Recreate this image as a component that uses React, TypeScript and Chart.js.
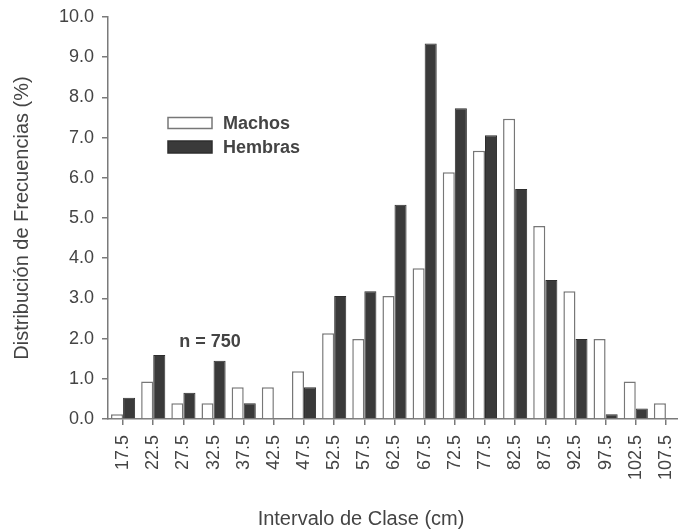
import React, { useEffect, useRef } from "react";
import { Chart, registerables } from "chart.js";

Chart.register(...registerables);

const categories = ["17.5","22.5","27.5","32.5","37.5","42.5","47.5","52.5","57.5","62.5","67.5","72.5","77.5","82.5","87.5","92.5","97.5","102.5","107.5"];
const machos = [0.12,0.93,0.39,0.39,0.79,0.79,1.19,2.13,1.99,3.06,3.75,6.14,6.67,7.47,4.80,3.18,1.99,0.93,0.39];
const hembras = [0.53,1.59,0.65,1.45,0.39,0,0.79,3.06,3.18,5.33,9.34,7.73,7.06,5.72,3.46,1.99,0.12,0.26,0];
const seriesNames = ["Machos", "Hembras"];
const yTitle = "Distribución de Frecuencias (%)";
const xTitle = "Intervalo de Clase (cm)";
const note = "n = 750";

const TEXT = "#444444";
const AXIS = "#7a7a7a";

const overlayPlugin = {
  id: "overlay",
  afterDraw(chart: any) {
    const ctx = chart.ctx;
    const x = chart.scales.x;
    const y = chart.scales.y;
    ctx.save();
    // x title
    ctx.fillStyle = TEXT;
    ctx.font = "20px 'Liberation Sans', Arial, sans-serif";
    ctx.textAlign = "center";
    ctx.textBaseline = "middle";
    ctx.fillText(xTitle, 361, 519);
    // note
    ctx.font = "bold 18px 'Liberation Sans', Arial, sans-serif";
    ctx.fillText(note, x.getPixelForValue(2.88), y.getPixelForValue(1.92));
    // legend
    const ds = chart.data.datasets;
    const bx = 168, bw = 44;
    const rows = [ { yc: 123, h: 11 }, { yc: 147, h: 12 } ];
    ctx.textAlign = "left";
    ds.forEach((d: any, i: number) => {
      const r = rows[i];
      ctx.fillStyle = d.backgroundColor;
      ctx.fillRect(bx, r.yc - r.h / 2, bw, r.h);
      ctx.lineWidth = 1.5;
      ctx.strokeStyle = d.borderColor;
      ctx.strokeRect(bx, r.yc - r.h / 2, bw, r.h);
      ctx.fillStyle = TEXT;
      ctx.fillText(d.label, 223, r.yc + 1);
    });
    ctx.restore();
  },
};

export default function App() {
  const ref = useRef<HTMLCanvasElement>(null);
  useEffect(() => {
    const canvas = ref.current!;
    const chart = new Chart(canvas, {
      type: "bar",
      data: {
        labels: categories,
        datasets: [
          { label: seriesNames[0], data: machos, backgroundColor: "#ffffff", borderColor: "#777777", borderWidth: 1.5, categoryPercentage: 0.8, barPercentage: 1.0 },
          { label: seriesNames[1], data: hembras, backgroundColor: "#3a3a3a", borderColor: "#2e2e2e", borderWidth: 1, categoryPercentage: 0.8, barPercentage: 1.0 },
        ],
      },
      options: {
        animation: false,
        responsive: false,
        devicePixelRatio: 1,
        layout: { padding: { top: 17, right: 3, left: 0, bottom: 0 } },
        plugins: { legend: { display: false }, tooltip: { enabled: false } },
        scales: {
          x: {
            grid: { display: true, drawOnChartArea: false, drawTicks: true, tickLength: 6, color: AXIS, offset: false, lineWidth: 1.5 },
            border: { display: true, color: AXIS, width: 1.5 },
            ticks: { color: TEXT, font: { family: "'Liberation Sans', Arial, sans-serif", size: 18 }, minRotation: 90, maxRotation: 90, padding: 10, autoSkip: false },
            afterFit: (s: any) => { s.height = 110; s.paddingLeft = 0; s.paddingRight = 0; },
          },
          y: {
            min: 0,
            max: 10,
            grid: { display: true, drawOnChartArea: false, drawTicks: true, tickLength: 6, color: AXIS, lineWidth: 1.5 },
            border: { display: true, color: AXIS, width: 1.5 },
            ticks: { color: TEXT, stepSize: 1, font: { family: "'Liberation Sans', Arial, sans-serif", size: 18 }, padding: 8, callback: (v: any) => Number(v).toFixed(1) },
            title: { display: true, text: yTitle, color: TEXT, font: { family: "'Liberation Sans', Arial, sans-serif", size: 20, lineHeight: 1.2 }, padding: { top: 10, bottom: 0 } },
            afterFit: (s: any) => { s.width = 108; s.paddingTop = 0; s.paddingBottom = 0; },
          },
        },
      },
      plugins: [overlayPlugin],
    });
    return () => chart.destroy();
  }, []);
  return (
    <div style={{ position: "absolute", left: 0, top: 0, width: 678, height: 529, overflow: "hidden", background: "#fff" }}>
      <canvas ref={ref} width={684} height={529} style={{ width: 684, height: 529, display: "block" }} />
    </div>
  );
}
